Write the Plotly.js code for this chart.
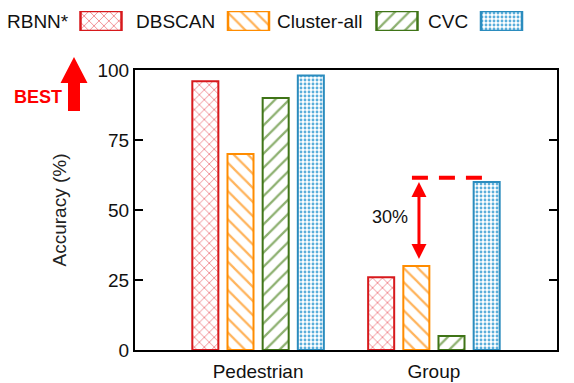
<!DOCTYPE html>
<html>
<head>
<meta charset="utf-8">
<script src="https://cdn.plot.ly/plotly-3.0.1.min.js"></script>
<style>html,body{margin:0;padding:0;background:#fff;}#chart{width:574px;height:383px;}</style>
</head>
<body>
<div id="chart"></div>
<script>
// ---- data ----
var categories = ["Pedestrian", "Group"];
var seriesNames = ["RBNN*", "DBSCAN", "Cluster-all", "CVC"];
var rbnn = [96, 26];
var dbscan = [70, 30];
var clusterAll = [90, 5];
var cvc = [98, 60];
var yTicks = [0, 25, 50, 75, 100];
var gapLabel = "30%";

// ---- styles ----
var W = 574, H = 383;
function px(x) { return x / W; }
function py(y) { return 1 - y / H; }
var styles = [
  {color: "#d7191c", shape: "x", fg: "#ee7a80", size: 7, sol: 0.22},
  {color: "#ff8c00", shape: "\\", fg: "#ffb45c", size: 10, sol: 0.22},
  {color: "#3f7417", shape: "/", fg: "#8db070", size: 10, sol: 0.22},
  {color: "#2b8cbe", shape: ".", fg: "#5aaedb", size: 4, sol: 0.4}
];
var seriesValues = [rbnn, dbscan, clusterAll, cvc];
var legendBoxCenters = [101, 248.5, 397, 501.5];
var legendTextRight = [71, 217, 365, 470];

var traces = [];
seriesValues.forEach(function (vals, i) {
  var s = styles[i];
  traces.push({
    type: "bar", x: categories, y: vals, name: seriesNames[i],
    xaxis: "x", yaxis: "y", showlegend: false, hoverinfo: "skip",
    marker: {
      color: "#ffffff",
      line: {color: s.color, width: 2},
      pattern: {shape: s.shape, fgcolor: s.fg, bgcolor: "#ffffff", size: s.size, solidity: s.sol, fillmode: "replace"}
    }
  });
});
// legend swatches drawn as bars on a hidden pixel-scaled axis
seriesNames.forEach(function (n, i) {
  var s = styles[i];
  traces.push({
    type: "bar", x: [legendBoxCenters[i]], y: [1], width: [41], base: [0],
    xaxis: "x2", yaxis: "y2", showlegend: false, hoverinfo: "skip",
    marker: {
      color: "#ffffff",
      line: {color: s.color, width: 2.5},
      pattern: {shape: s.shape, fgcolor: s.fg, bgcolor: "#ffffff", size: s.size, solidity: s.sol, fillmode: "replace"}
    }
  });
});

var annotations = [];
seriesNames.forEach(function (n, i) {
  annotations.push({
    text: n, xref: "paper", yref: "paper", x: px(legendTextRight[i]), y: py(21),
    xanchor: "right", yanchor: "middle", showarrow: false,
    font: {family: "Liberation Sans, Arial, sans-serif", size: 19, color: "#111"}
  });
});
annotations.push({
  text: "<b>BEST</b>", xref: "paper", yref: "paper", x: px(37.5), y: py(97),
  xanchor: "center", yanchor: "middle", showarrow: false,
  font: {family: "Liberation Sans, Arial, sans-serif", size: 18, color: "#ff0000"}
});
// double-headed arrow: from orange Group bar top to CVC Group bar top
annotations.push({
  xref: "x", yref: "y", axref: "x", ayref: "y",
  x: 0.915, y: cvc[1], ax: 0.915, ay: dbscan[1] + 2,
  showarrow: true, arrowside: "end+start", arrowhead: 2, arrowsize: 1, arrowwidth: 3,
  arrowcolor: "#ff0000", text: "", standoff: 0, startstandoff: 0
});
annotations.push({
  text: gapLabel, xref: "x", yref: "y", x: 0.753, y: 47.5, showarrow: false,
  xanchor: "center", yanchor: "middle",
  font: {family: "Liberation Sans, Arial, sans-serif", size: 18, color: "#111"}
});

var shapes = [
  {
    type: "path", xref: "paper", yref: "paper",
    path: "M" + px(74) + "," + py(57) + " L" + px(60.5) + "," + py(83) + " L" + px(68) + "," + py(83) +
          " L" + px(68) + "," + py(111) + " L" + px(80) + "," + py(111) + " L" + px(80) + "," + py(83) +
          " L" + px(87.5) + "," + py(83) + " Z",
    fillcolor: "#ff0000", line: {width: 0}
  },
  {
    type: "line", xref: "x", yref: "y", x0: 0.875, x1: 1.273, y0: cvc[1] + 1.5, y1: cvc[1] + 1.5,
    line: {color: "#ff0000", width: 4, dash: "16px,11px"}
  }
];

var layout = {
  width: W, height: H,
  margin: {l: 0, r: 0, t: 0, b: 0, pad: 0},
  paper_bgcolor: "#ffffff", plot_bgcolor: "#ffffff",
  showlegend: false,
  barmode: "group", bargap: 0.2, bargroupgap: 0.26,
  font: {family: "Liberation Sans, Arial, sans-serif", color: "#111"},
  xaxis: {
    domain: [px(135), px(557)], range: [-0.7, 1.7], type: "category",
    showline: true, linecolor: "#000", linewidth: 2, mirror: true,
    ticks: "", showgrid: false, zeroline: false,
    tickfont: {size: 19, color: "#111"}, ticklabelstandoff: 3
  },
  yaxis: {
    domain: [py(350), py(70)], range: [0, 100], tickvals: yTicks,
    showline: true, linecolor: "#000", linewidth: 2, mirror: "ticks",
    ticks: "inside", ticklen: 8, tickwidth: 2, tickcolor: "#000",
    showgrid: false, zeroline: false,
    tickfont: {size: 19, color: "#111"},
    title: {text: "Accuracy (%)", font: {size: 19, color: "#222"}, standoff: 26}
  },
  xaxis2: {domain: [0, 1], range: [0, W], visible: false, fixedrange: true},
  yaxis2: {domain: [py(31), py(11)], range: [0, 1], visible: false, fixedrange: true, anchor: "x2"},
  annotations: annotations,
  shapes: shapes
};

Plotly.newPlot("chart", traces, layout, {displayModeBar: false, staticPlot: true});
</script>
</body>
</html>
